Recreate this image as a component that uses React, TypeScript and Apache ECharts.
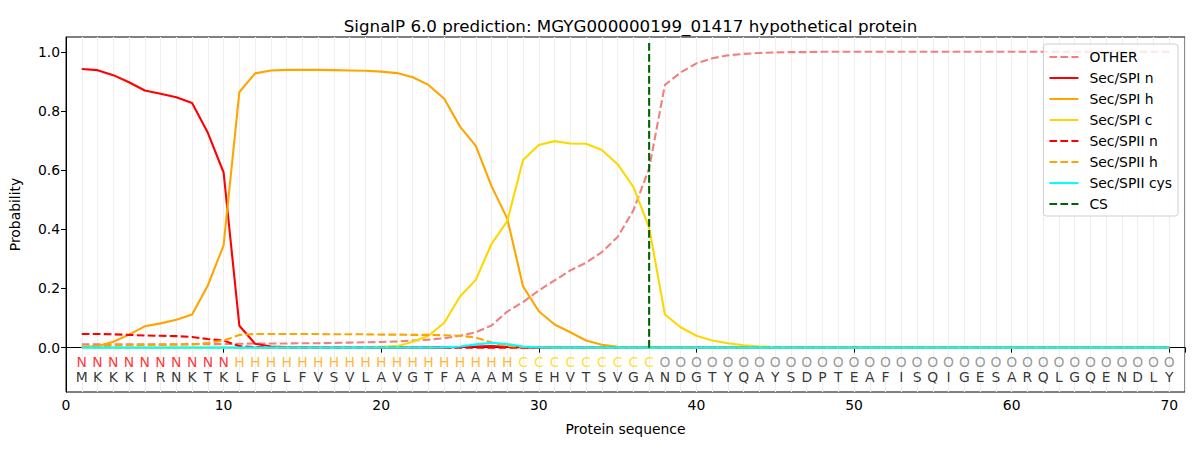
import React, { useEffect, useRef } from "react";
import * as echarts from "echarts";

const sequence = "MKKKIRNKTKLFGLFVSVLAVGTFAAAMSEHVTSVGANDGTYQAYSDPTEAFISQIGESARQLGQENDLY".split("");
const regions = "NNNNNNNNNNHHHHHHHHHHHHHHHHHHCCCCCCCCCOOOOOOOOOOOOOOOOOOOOOOOOOOOOOOOOO".split("");

const other = [
  0.011, 0.011, 0.011, 0.011, 0.011, 0.011, 0.011, 0.012, 0.012, 0.012,
  0.013, 0.014, 0.014, 0.014, 0.015, 0.015, 0.016, 0.017, 0.018, 0.019,
  0.021, 0.024, 0.027, 0.032, 0.04, 0.052, 0.075, 0.122, 0.154, 0.193,
  0.227, 0.261, 0.287, 0.323, 0.374, 0.464, 0.606, 0.888, 0.93, 0.961,
  0.978, 0.988, 0.993, 0.996, 0.998, 0.999, 0.999, 1, 1, 1,
  1, 1, 1, 1, 1, 1, 1, 1, 1, 1,
  1, 1, 1, 1, 1, 1, 1, 1, 1, 1,
];
const spiN = [
  0.942, 0.938, 0.921, 0.897, 0.869, 0.858, 0.846, 0.827, 0.726, 0.592,
  0.074, 0.013, 0.004, 0.002, 0.001, 0, 0, 0, 0, 0,
  0, 0, 0, 0, 0.002, 0.004, 0.005, 0.003, 0.001, 0,
  0, 0, 0, 0, 0, 0, 0, 0, 0, 0,
  0, 0, 0, 0, 0, 0, 0, 0, 0, 0,
  0, 0, 0, 0, 0, 0, 0, 0, 0, 0,
  0, 0, 0, 0, 0, 0, 0, 0, 0, 0,
];
const spiH = [
  0.002, 0.005, 0.02, 0.044, 0.072, 0.082, 0.094, 0.112, 0.21, 0.346,
  0.864, 0.927, 0.937, 0.939, 0.939, 0.939, 0.938, 0.937, 0.936, 0.933,
  0.928, 0.914, 0.888, 0.841, 0.747, 0.682, 0.546, 0.436, 0.207, 0.123,
  0.078, 0.052, 0.024, 0.01, 0.003, 0.001, 0, 0, 0, 0,
  0, 0, 0, 0, 0, 0, 0, 0, 0, 0,
  0, 0, 0, 0, 0, 0, 0, 0, 0, 0,
  0, 0, 0, 0, 0, 0, 0, 0, 0, 0,
];
const spiC = [
  0, 0, 0, 0, 0, 0, 0, 0, 0, 0,
  0, 0, 0, 0, 0, 0, 0, 0, 0.001, 0.003,
  0.005, 0.02, 0.04, 0.084, 0.173, 0.229, 0.351, 0.428, 0.634, 0.685,
  0.698, 0.69, 0.689, 0.668, 0.62, 0.543, 0.406, 0.112, 0.069, 0.04,
  0.024, 0.015, 0.008, 0.004, 0.002, 0.001, 0, 0, 0, 0,
  0, 0, 0, 0, 0, 0, 0, 0, 0, 0,
  0, 0, 0, 0, 0, 0, 0, 0, 0, 0,
];
const spiiN = [
  0.046, 0.046, 0.045, 0.043, 0.041, 0.04, 0.039, 0.036, 0.029, 0.024,
  0.005, 0.002, 0.001, 0, 0, 0, 0, 0, 0, 0,
  0, 0, 0, 0, 0, 0, 0, 0, 0, 0,
  0, 0, 0, 0, 0, 0, 0, 0, 0, 0,
  0, 0, 0, 0, 0, 0, 0, 0, 0, 0,
  0, 0, 0, 0, 0, 0, 0, 0, 0, 0,
  0, 0, 0, 0, 0, 0, 0, 0, 0, 0,
];
const spiiH = [
  0.003, 0.005, 0.007, 0.008, 0.009, 0.009, 0.01, 0.011, 0.016, 0.024,
  0.043, 0.046, 0.046, 0.046, 0.046, 0.046, 0.045, 0.045, 0.045, 0.044,
  0.044, 0.043, 0.043, 0.042, 0.04, 0.034, 0.017, 0.006, 0.002, 0.001,
  0, 0, 0, 0, 0, 0, 0, 0, 0, 0,
  0, 0, 0, 0, 0, 0, 0, 0, 0, 0,
  0, 0, 0, 0, 0, 0, 0, 0, 0, 0,
  0, 0, 0, 0, 0, 0, 0, 0, 0, 0,
];
const spiiCys = [
  0, 0, 0, 0, 0, 0, 0, 0, 0, 0,
  0, 0, 0, 0, 0, 0, 0, 0, 0, 0,
  0, 0, 0, 0.001, 0.004, 0.011, 0.016, 0.012, 0.004, 0.001,
  0, 0, 0, 0, 0, 0, 0, 0, 0, 0,
  0, 0, 0, 0, 0, 0, 0, 0, 0, 0,
  0, 0, 0, 0, 0, 0, 0, 0, 0, 0,
  0, 0, 0, 0, 0, 0, 0, 0, 0, 0,
];
const csPosition = 37;
const csTop = 1.035;
const xTicks = [0, 10, 20, 30, 40, 50, 60, 70];
const yTicks = [0, 0.2, 0.4, 0.6, 0.8, 1.0];

const regionColors: Record<string, string> = {
  N: "#ff0000",
  H: "#ffa500",
  C: "#ffd700",
  O: "#808080",
};

const FONT = "DejaVu Sans";
const DASH = [7.7, 3.3];
const LW = 2.1;

function lineSeries(name: string, values: number[], color: string, dashed: boolean) {
  return {
    name,
    type: "line",
    data: values.map((v, i) => [i + 1, v]),
    showSymbol: false,
    symbol: "none",
    lineStyle: { color, width: LW, type: dashed ? DASH : "solid" },
    itemStyle: { color },
    z: 3,
  };
}

export default function App() {
  const ref = useRef<HTMLDivElement>(null);
  useEffect(() => {
    if (!ref.current) return;
    const chart = echarts.init(ref.current, null, { renderer: "svg" });
    const option: any = {
      animation: false,
      backgroundColor: "#ffffff",
      textStyle: { fontFamily: FONT },
      title: {
        text: "SignalP 6.0 prediction: MGYG000000199_01417 hypothetical protein",
        left: 625.5,
        textAlign: "center",
        top: 12,
        textStyle: { fontFamily: FONT, fontSize: 16.7, fontWeight: "normal", color: "#000" },
      },
      grid: {
        left: 66,
        right: 15,
        top: 37,
        bottom: 58,
        show: true,
        borderColor: "#000",
        borderWidth: 1,
        backgroundColor: "transparent",
      },
      legend: {
        orient: "vertical",
        right: 22,
        top: 44,
        padding: [6, 6, 5, 5],
        itemWidth: 29,
        itemHeight: 14,
        itemGap: 7,
        itemStyle: { opacity: 0 },
        backgroundColor: "rgba(255,255,255,0.8)",
        borderColor: "#d0d0d0",
        borderWidth: 1,
        borderRadius: 3,
        textStyle: { fontFamily: FONT, fontSize: 13.9, color: "#000", padding: [0, 0, 0, 6] },
        data: [
          "OTHER",
          "Sec/SPI n",
          "Sec/SPI h",
          "Sec/SPI c",
          "Sec/SPII n",
          "Sec/SPII h",
          "Sec/SPII cys",
          "CS",
        ],
      },
      xAxis: [
        {
          type: "value",
          min: 0,
          max: 71,
          interval: 10,
          name: "Protein sequence",
          nameLocation: "middle",
          nameGap: 30,
          nameTextStyle: { fontFamily: FONT, fontSize: 13.9, color: "#000" },
          axisLine: { show: true, lineStyle: { color: "#000" } },
          axisTick: { show: true, inside: false, length: 5, lineStyle: { color: "#000" } },
          axisLabel: {
            fontFamily: FONT,
            fontSize: 13.9,
            color: "#000",
            margin: 6,
            customValues: xTicks,
            formatter: (v: number) => String(v),
          },
          splitLine: { show: false },
        },
        {
          type: "value",
          min: 0,
          max: 71,
          interval: 1,
          position: "bottom",
          axisLine: { show: false },
          axisTick: { show: false },
          axisLabel: { show: false },
          splitLine: { show: true, lineStyle: { color: "#efefef", width: 1.2 } },
        },
      ],
      yAxis: {
        type: "value",
        min: -0.15,
        max: 1.05,
        name: "Probability",
        nameLocation: "middle",
        nameGap: 44,
        nameTextStyle: { fontFamily: FONT, fontSize: 13.9, color: "#000" },
        axisLine: { show: true, lineStyle: { color: "#000" } },
        axisTick: { show: true, length: 5, lineStyle: { color: "#000" }, customValues: yTicks },
        axisLabel: {
          fontFamily: FONT,
          fontSize: 13.9,
          color: "#000",
          margin: 6,
          customValues: yTicks,
          formatter: (v: number) => v.toFixed(1),
        },
        splitLine: { show: false },
      },
      series: [
        lineSeries("OTHER", other, "#f08080", true),
        lineSeries("Sec/SPI n", spiN, "#ff0000", false),
        lineSeries("Sec/SPI h", spiH, "#ffa500", false),
        lineSeries("Sec/SPI c", spiC, "#ffd700", false),
        lineSeries("Sec/SPII n", spiiN, "#ff0000", true),
        lineSeries("Sec/SPII h", spiiH, "#ffa500", true),
        lineSeries("Sec/SPII cys", spiiCys, "#00ffff", false),
        {
          name: "CS",
          type: "line",
          data: [
            [csPosition, 0],
            [csPosition, csTop],
          ],
          showSymbol: false,
          symbol: "none",
          lineStyle: { color: "#006400", width: LW, type: DASH },
          itemStyle: { color: "#006400" },
          z: 4,
        },
        {
          name: "regions",
          type: "scatter",
          symbolSize: 0,
          silent: true,
          data: regions.map((r, i) => ({
            value: [i + 1, -0.048],
            label: { color: regionColors[r] },
          })),
          label: {
            show: true,
            position: "inside",
            fontFamily: FONT,
            fontSize: 13.9,
            formatter: (p: any) => regions[p.dataIndex],
          },
          z: 5,
        },
        {
          name: "residues",
          type: "scatter",
          symbolSize: 0,
          silent: true,
          data: sequence.map((s, i) => [i + 1, -0.1]),
          label: {
            show: true,
            position: "inside",
            fontFamily: FONT,
            fontSize: 13.9,
            color: "#000",
            formatter: (p: any) => sequence[p.dataIndex],
          },
          z: 5,
        },
      ],
    };
    chart.setOption(option);
    return () => chart.dispose();
  }, []);
  return (
    <div
      ref={ref}
      style={{ position: "absolute", left: 0, top: 0, width: 1200, height: 450 }}
    />
  );
}
